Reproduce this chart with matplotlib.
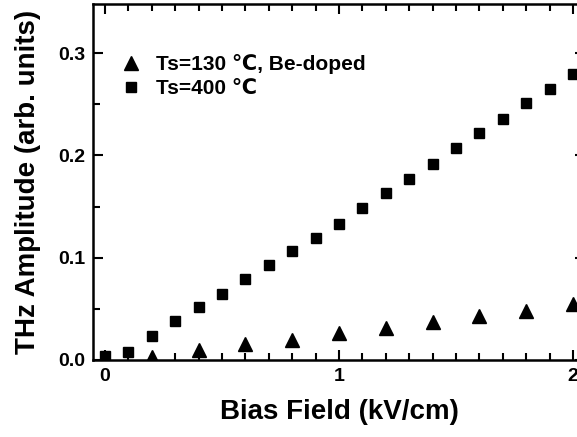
import matplotlib
matplotlib.use("Agg")
import matplotlib.pyplot as plt
from matplotlib.ticker import MultipleLocator

plt.rcParams['font.family'] = ['Liberation Sans', 'DejaVu Sans']
plt.rcParams['font.weight'] = 'bold'

x_sq = [0.0, 0.1, 0.2, 0.3, 0.4, 0.5, 0.6, 0.7, 0.8, 0.9, 1.0,
        1.1, 1.2, 1.3, 1.4, 1.5, 1.6, 1.7, 1.8, 1.9, 2.0]
y_sq = [0.004, 0.008, 0.023, 0.038, 0.052, 0.065, 0.079, 0.0925, 0.107, 0.119, 0.133,
        0.149, 0.163, 0.177, 0.192, 0.207, 0.2216, 0.236, 0.251, 0.265, 0.280]
x_tri = [0.0, 0.2, 0.4, 0.6, 0.8, 1.0, 1.2, 1.4, 1.6, 1.8, 2.0]
y_tri = [0.002, 0.003, 0.010, 0.016, 0.020, 0.026, 0.031, 0.037, 0.043, 0.048, 0.055]

label_tri = "Ts=130 \u2103, Be-doped"
label_sq = "Ts=400 \u2103"

fig = plt.figure(figsize=(5.77, 4.37), dpi=100)
ax = fig.add_axes([93.3/577, 1-360/437, (584.7-93.3)/577, (360-4)/437])

ax.plot(x_tri, y_tri, linestyle='none', marker='^', color='black', markersize=9.5, label=label_tri)
ax.plot(x_sq, y_sq, linestyle='none', marker='s', color='black', markersize=7.5, label=label_sq)

ax.set_xlim(-0.05, 2.05)
ax.set_ylim(0.0, 0.348)
ax.xaxis.set_minor_locator(MultipleLocator(0.1))
ax.yaxis.set_minor_locator(MultipleLocator(0.05))
ax.set_xticks([0, 1, 2])
ax.set_xticklabels(['0', '1', '2'])
ax.set_yticks([0.0, 0.1, 0.2, 0.3])
ax.set_yticklabels(['0.0', '0.1', '0.2', '0.3'])

ax.tick_params(which='both', direction='in', top=True, right=True, width=1.5, labelsize=14, pad=6)
ax.tick_params(which='major', length=7)
ax.tick_params(which='minor', length=5)
for s in ax.spines.values():
    s.set_linewidth(1.8)

ax.set_xlabel("Bias Field (kV/cm)", fontsize=20, fontweight='bold', labelpad=10)
ax.set_ylabel("THz Amplitude (arb. units)", fontsize=20, fontweight='bold', labelpad=12)

leg = ax.legend(loc='upper left', bbox_to_anchor=(0.052, 0.86), frameon=False,
                prop={'size': 15, 'weight': 'bold'}, handletextpad=0.6,
                labelspacing=0.25, handlelength=1.2, borderpad=0, borderaxespad=0)

fig.savefig("out.png", dpi=100)
